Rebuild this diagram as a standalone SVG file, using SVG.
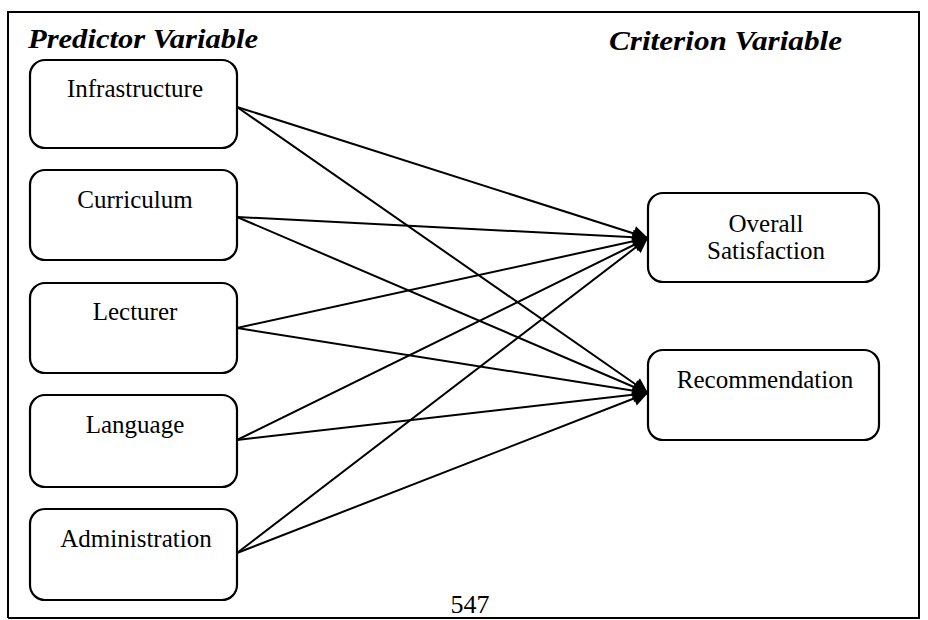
<svg xmlns="http://www.w3.org/2000/svg" width="928" height="620" viewBox="0 0 928 620">
<defs>
<style>
.frame{fill:none;stroke:#000;stroke-width:2}
.box{fill:#fff;stroke:#000;stroke-width:2.2}
.lbl{font-family:"Liberation Serif","Times New Roman",serif;font-size:25px;fill:#000;text-anchor:middle}
.hd{font-family:"Liberation Serif","Times New Roman",serif;font-size:27px;font-weight:bold;font-style:italic;fill:#000}
.edge{stroke:#000;stroke-width:2;fill:none;marker-end:url(#ah)}
</style>
<marker id="ah" viewBox="0 0 10 10" refX="10" refY="5" markerWidth="16" markerHeight="15" markerUnits="userSpaceOnUse" orient="auto">
<path d="M0,0 L10,5 L0,10 z" fill="#000"/>
</marker>
</defs>
<rect width="928" height="620" fill="#fff"/>
<g id="frame">
<path class="frame" d="M8,618 L8,12 L919,12 L919,618 L8,618"/>
</g>
<text class="hd" x="28" y="48" textLength="230" lengthAdjust="spacingAndGlyphs">Predictor Variable</text>
<text class="hd" x="609" y="50" textLength="233" lengthAdjust="spacingAndGlyphs">Criterion Variable</text>
<g id="connectors">
<line class="edge" x1="237" y1="107" x2="648" y2="238"/>
<line class="edge" x1="237" y1="107" x2="648" y2="393"/>
<line class="edge" x1="237" y1="217" x2="648" y2="238"/>
<line class="edge" x1="237" y1="217" x2="648" y2="393"/>
<line class="edge" x1="237" y1="328" x2="648" y2="238"/>
<line class="edge" x1="237" y1="328" x2="648" y2="393"/>
<line class="edge" x1="237" y1="440" x2="648" y2="238"/>
<line class="edge" x1="237" y1="440" x2="648" y2="393"/>
<line class="edge" x1="237" y1="553" x2="648" y2="238"/>
<line class="edge" x1="237" y1="553" x2="648" y2="393"/>
</g>
<g id="infrastructure">
<rect class="box" x="30" y="60" width="207" height="88" rx="15"/>
<text class="lbl" x="135" y="97">Infrastructure</text>
</g>
<g id="curriculum">
<rect class="box" x="30" y="170" width="207" height="90" rx="15"/>
<text class="lbl" x="135" y="208">Curriculum</text>
</g>
<g id="lecturer">
<rect class="box" x="30" y="283" width="207" height="90" rx="15"/>
<text class="lbl" x="135" y="320">Lecturer</text>
</g>
<g id="language">
<rect class="box" x="30" y="395" width="207" height="92" rx="15"/>
<text class="lbl" x="135" y="433">Language</text>
</g>
<g id="administration">
<rect class="box" x="30" y="509" width="207" height="91" rx="15"/>
<text class="lbl" x="136" y="547">Administration</text>
</g>
<g id="overall-satisfaction">
<rect class="box" x="648" y="193" width="231" height="89" rx="15"/>
<text class="lbl" x="766" y="232">Overall</text>
<text class="lbl" x="766" y="259">Satisfaction</text>
</g>
<g id="recommendation">
<rect class="box" x="648" y="350" width="231" height="90" rx="15"/>
<text class="lbl" x="765" y="388">Recommendation</text>
</g>
<text class="lbl" x="470" y="613" style="font-size:26px">547</text>
</svg>
